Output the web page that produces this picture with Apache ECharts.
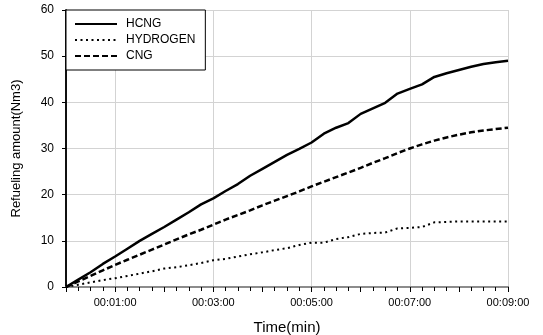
<!DOCTYPE html>
<html>
<head>
<meta charset="utf-8">
<script src="https://cdn.jsdelivr.net/npm/echarts@6/dist/echarts.min.js"></script>
<style>
  html, body { margin: 0; padding: 0; background: #fff; }
  #chart { width: 543px; height: 335px; }
</style>
</head>
<body>
<div id="chart"></div>
<script>
// time in seconds, one sample every 15 s
const timeSec = [0, 15, 30, 45, 60, 75, 90, 105, 120, 135, 150, 165, 180, 195, 210, 225, 240, 255, 270,
  285, 300, 315, 330, 345, 360, 375, 390, 405, 420, 435, 450, 465, 480, 495, 510, 525, 540];

const hcng = [0, 1.6, 3.2, 5.0, 6.6, 8.3, 10.0, 11.5, 13.0, 14.6, 16.2, 17.9, 19.2, 20.8, 22.3, 24.1, 25.6,
  27.1, 28.6, 29.9, 31.3, 33.2, 34.5, 35.5, 37.5, 38.7, 39.9, 41.9, 42.9, 43.9, 45.5, 46.3, 47.0, 47.7,
  48.3, 48.7, 49.0];

const hydrogen = [0, 0.5, 1.0, 1.5, 1.9, 2.4, 2.9, 3.4, 4.0, 4.3, 4.7, 5.2, 5.8, 6.1, 6.6, 7.1, 7.5, 8.0,
  8.4, 9.1, 9.6, 9.6, 10.4, 10.8, 11.5, 11.7, 11.8, 12.7, 12.8, 13.0, 14.0, 14.1, 14.2, 14.2, 14.2, 14.2, 14.2];

const cng = [0, 1.2, 2.4, 3.6, 4.8, 5.9, 7.0, 8.1, 9.2, 10.3, 11.4, 12.4, 13.5, 14.6, 15.6, 16.6, 17.7,
  18.7, 19.7, 20.7, 21.8, 22.8, 23.8, 24.8, 25.8, 26.9, 27.9, 29.0, 30.0, 30.9, 31.7, 32.4, 33.0, 33.5,
  33.9, 34.2, 34.5];

const FONT = '"Liberation Sans", Arial, sans-serif';

function pairs(values) {
  return timeSec.map((t, i) => [t, values[i]]);
}

function clock(sec) {
  const m = Math.round(sec / 60);
  return '00:' + String(m).padStart(2, '0') + ':00';
}

const chart = echarts.init(document.getElementById('chart'), null, { renderer: 'canvas' });

chart.setOption({
  animation: false,
  backgroundColor: '#fff',
  grid: { left: 66, right: 35, top: 10, bottom: 48, outerBoundsMode: 'none', containLabel: false },
  legend: {
    orient: 'vertical',
    left: 66,
    top: 10,
    padding: [8, 10, 8, 8],
    itemWidth: 42,
    itemHeight: 10,
    itemGap: 4,
    backgroundColor: '#fff',
    borderColor: '#000',
    borderWidth: 1,
    itemStyle: { opacity: 0 },
    textStyle: { fontFamily: FONT, fontSize: 12, color: '#000', padding: [0, 0, 0, 4] },
    data: ['HCNG', 'HYDROGEN', 'CNG']
  },
  xAxis: [
    {
      type: 'value',
      min: 0,
      max: 540,
      interval: 60,
      name: 'Time(min)',
      nameLocation: 'middle',
      nameGap: 33,
      nameTextStyle: { fontFamily: FONT, fontSize: 15, color: '#000' },
      axisLine: { lineStyle: { color: '#000', width: 1.5 } },
      axisTick: { show: true, length: 5, lineStyle: { color: '#000' } },
      minorTick: { show: true, splitNumber: 4, length: 4, lineStyle: { color: '#000' } },
      axisLabel: {
        fontFamily: FONT, fontSize: 11, color: '#000', margin: 10,
        formatter: v => (Math.round(v / 60) % 2 === 1 ? clock(v) : '')
      },
      splitLine: { show: true, lineStyle: { color: ['transparent', '#d3d3d3'], width: 1 } }
    },
    {
      type: 'value',
      position: 'top',
      min: 0,
      max: 540,
      axisLine: { show: true, lineStyle: { color: '#8c8c8c', width: 2 } },
      axisTick: { show: false },
      axisLabel: { show: false },
      splitLine: { show: false }
    }
  ],
  yAxis: [
    {
      type: 'value',
      min: 0,
      max: 60,
      interval: 10,
      name: 'Refueling amount(Nm3)',
      nameLocation: 'middle',
      nameGap: 43,
      nameTextStyle: { fontFamily: FONT, fontSize: 13, color: '#000' },
      axisLine: { show: true, lineStyle: { color: '#000', width: 1.5 } },
      axisTick: { show: true, length: 4, lineStyle: { color: '#000' } },
      axisLabel: { fontFamily: FONT, fontSize: 12, color: '#000', margin: 12 },
      splitLine: { show: true, lineStyle: { color: '#d3d3d3', width: 1 } }
    },
    {
      type: 'value',
      position: 'right',
      min: 0,
      max: 60,
      axisLine: { show: true, lineStyle: { color: '#000', width: 1.5 } },
      axisTick: { show: false },
      axisLabel: { show: false },
      splitLine: { show: false }
    }
  ],
  series: [
    {
      name: 'HCNG',
      type: 'line',
      symbol: 'none',
      lineStyle: { color: '#000', width: 2.5 },
      itemStyle: { color: '#000' },
      data: pairs(hcng)
    },
    {
      name: 'HYDROGEN',
      type: 'line',
      symbol: 'none',
      lineStyle: { color: '#000', width: 2, type: [2, 3.5] },
      itemStyle: { color: '#000' },
      data: pairs(hydrogen)
    },
    {
      name: 'CNG',
      type: 'line',
      symbol: 'none',
      lineStyle: { color: '#000', width: 2.5, type: [6, 3] },
      itemStyle: { color: '#000' },
      data: pairs(cng)
    }
  ]
});
</script>
</body>
</html>
